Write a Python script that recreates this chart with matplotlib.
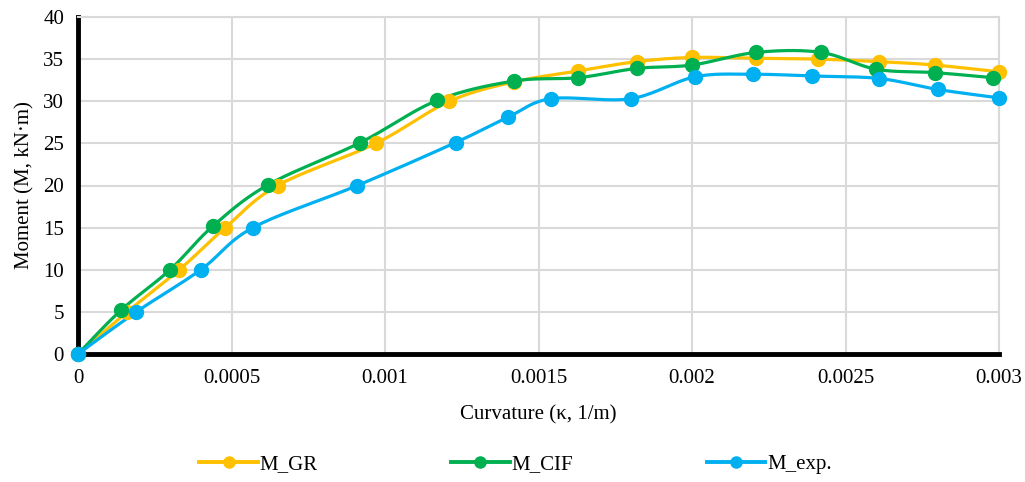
import numpy as np
import matplotlib
matplotlib.use("Agg")
import matplotlib.pyplot as plt
from matplotlib.lines import Line2D

plt.rcParams['font.family'] = ['Liberation Serif', 'DejaVu Serif']

# Data
gr_x = [0, 0.00016, 0.00033, 0.00048, 0.00065, 0.00097, 0.00121, 0.00142, 0.00163,
        0.00182, 0.0020, 0.00221, 0.00241, 0.00261, 0.00279, 0.0030]
gr_y = [0, 5.0, 10.0, 15.0, 20.0, 25.0, 30.0, 32.3, 33.6, 34.7, 35.2, 35.1, 35.0, 34.7, 34.3, 33.5]

cif_x = [0, 0.00014, 0.00030, 0.00044, 0.00062, 0.00092, 0.00117, 0.00142, 0.00163,
         0.00182, 0.0020, 0.00221, 0.00242, 0.00260, 0.00279, 0.00298]
cif_y = [0, 5.2, 10.0, 15.2, 20.1, 25.1, 30.1, 32.4, 32.8, 33.9, 34.3, 35.8, 35.8, 33.8, 33.4, 32.8]

exp_x = [0, 0.00019, 0.00040, 0.00057, 0.00091, 0.00123, 0.00140, 0.00154, 0.00180,
         0.00201, 0.00220, 0.00239, 0.00261, 0.00280, 0.0030]
exp_y = [0, 5.0, 10.0, 15.0, 20.0, 25.1, 28.1, 30.3, 30.3, 32.9, 33.2, 33.0, 32.7, 31.4, 30.4]

series_names = ["M_GR", "M_CIF", "M_exp."]
colors = ["#FFC000", "#00B050", "#00B0F0"]

x_ticks = [0, 0.0005, 0.001, 0.0015, 0.002, 0.0025, 0.003]
x_ticklabels = ["0", "0.0005", "0.001", "0.0015", "0.002", "0.0025", "0.003"]
y_ticks = [0, 5, 10, 15, 20, 25, 30, 35, 40]


def smooth(x, y, n=20, tension=1/6):
    """Excel-like smoothing: cubic Bezier segments with Catmull-Rom control points."""
    x = np.asarray(x, float); y = np.asarray(y, float)
    sx = 1.0 / 0.003; sy = 1.0 / 40.0
    px = x * sx; py = y * sy
    out_x, out_y = [px[0]], [py[0]]
    N = len(px)
    for i in range(N - 1):
        p0 = np.array([px[max(i - 1, 0)], py[max(i - 1, 0)]])
        p1 = np.array([px[i], py[i]])
        p2 = np.array([px[i + 1], py[i + 1]])
        p3 = np.array([px[min(i + 2, N - 1)], py[min(i + 2, N - 1)]])
        c1 = p1 + (p2 - p0) * tension
        c2 = p2 - (p3 - p1) * tension
        t = np.linspace(0, 1, n)[1:, None]
        b = ((1 - t) ** 3) * p1 + 3 * ((1 - t) ** 2) * t * c1 + 3 * (1 - t) * t ** 2 * c2 + t ** 3 * p2
        out_x.extend(b[:, 0]); out_y.extend(b[:, 1])
    return np.array(out_x) / sx, np.array(out_y) / sy


fig = plt.figure(figsize=(10.25, 4.82), dpi=100)
ax = fig.add_axes([78 / 1025, 1 - 354 / 482, (999 - 78) / 1025, (354 - 17) / 482])

for (xs, ys), name, c in zip([(gr_x, gr_y), (cif_x, cif_y), (exp_x, exp_y)], series_names, colors):
    sxv, syv = smooth(xs, ys)
    ax.plot(sxv, syv, color=c, lw=2.3, solid_capstyle='round', zorder=3)
    ax.plot(xs, ys, linestyle='none', marker='o', markersize=10, color=c, zorder=4, clip_on=False)

ax.set_xlim(0, 0.003)
ax.set_ylim(0, 40)
ax.set_xticks(x_ticks)
ax.set_xticklabels(x_ticklabels)
ax.set_yticks(y_ticks)
ax.tick_params(axis='x', length=0, labelsize=15, colors='black', pad=11)
ax.tick_params(axis='y', length=0, labelsize=15, colors='black', pad=10)
ax.grid(True, color='#D9D9D9', lw=1.5, zorder=0)
ax.set_axisbelow(True)
for s in ['top', 'right']:
    ax.spines[s].set_color('#D9D9D9')
    ax.spines[s].set_linewidth(1.5)
for s in ['left', 'bottom']:
    ax.spines[s].set_color('black')
    ax.spines[s].set_linewidth(3.5)
    ax.spines[s].set_zorder(2.5)

ax.set_xlabel("Curvature (κ, 1/m)", fontsize=15, labelpad=12)
ax.set_ylabel("Moment (M, kN·m)", fontsize=15, labelpad=6)

handles = [Line2D([0], [0], color=c, lw=2.8, marker='o', markersize=8) for c in colors]
fig.legend(handles, series_names, loc='center', bbox_to_anchor=(0.503, 1 - 464 / 482),
           ncol=3, frameon=False, fontsize=15, columnspacing=6.4, handlelength=2.8,
           handletextpad=0.1)

fig.savefig("out.png", dpi=100)
